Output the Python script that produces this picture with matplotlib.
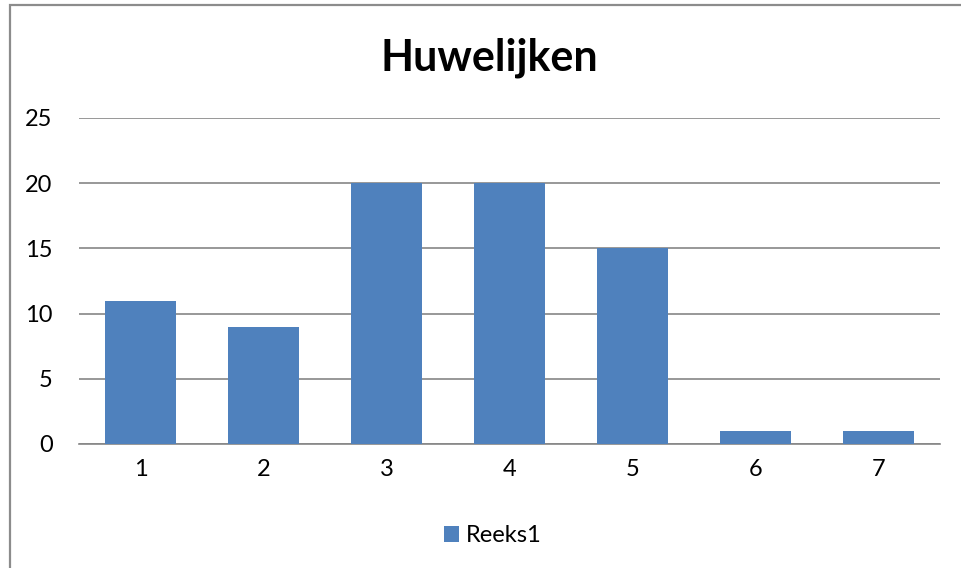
import numpy as np
import matplotlib.pyplot as plt
from matplotlib.patches import Rectangle

categories = ['1', '2', '3', '4', '5', '6', '7']
reeks1 = [11, 9, 20, 20, 15, 1, 1]
y_ticks = [0, 5, 10, 15, 20, 25]

plt.rcParams['font.family'] = ['Lato', 'DejaVu Sans']

fig = plt.figure(figsize=(9.62, 5.68), dpi=100)
ax = fig.add_axes([79 / 962, 1 - 444 / 568, (940 - 79) / 962, (444 - 118) / 568])

x = np.arange(len(categories))
ax.bar(x, reeks1, width=0.57, color='#4F81BD', label='Reeks1', zorder=3)

ax.set_xlim(-0.5, len(categories) - 0.5)
ax.set_ylim(0, 25)
ax.set_yticks(y_ticks)
ax.set_xticks(x)
ax.set_xticklabels(categories)
ax.yaxis.grid(True, color='#868686', linewidth=1.2, zorder=0)
for s in ['top', 'right', 'left']:
    ax.spines[s].set_visible(False)
ax.spines['bottom'].set_color('#868686')
ax.spines['bottom'].set_linewidth(1.2)
ax.tick_params(axis='both', length=0, labelsize=17, colors='black')
ax.tick_params(axis='y', pad=19)
ax.tick_params(axis='x', pad=11)

fig.text(489 / 962, 1 - 58 / 568, 'Huwelijken', ha='center', va='center',
         fontsize=31, fontweight='bold')

fig.legend(loc='center', bbox_to_anchor=(493 / 962, 1 - 536 / 568), frameon=False,
           fontsize=17, handlelength=0.65, handleheight=0.65, handletextpad=0.3)

# chart border, cut off at right and bottom like the screenshot
fig.add_artist(Rectangle((9.5 / 962, -0.1), 1.2, 1.1 - 5.5 / 568,
                         transform=fig.transFigure, fill=False,
                         edgecolor='#8c8c8c', linewidth=1.6))

fig.savefig('out.png', dpi=100)
